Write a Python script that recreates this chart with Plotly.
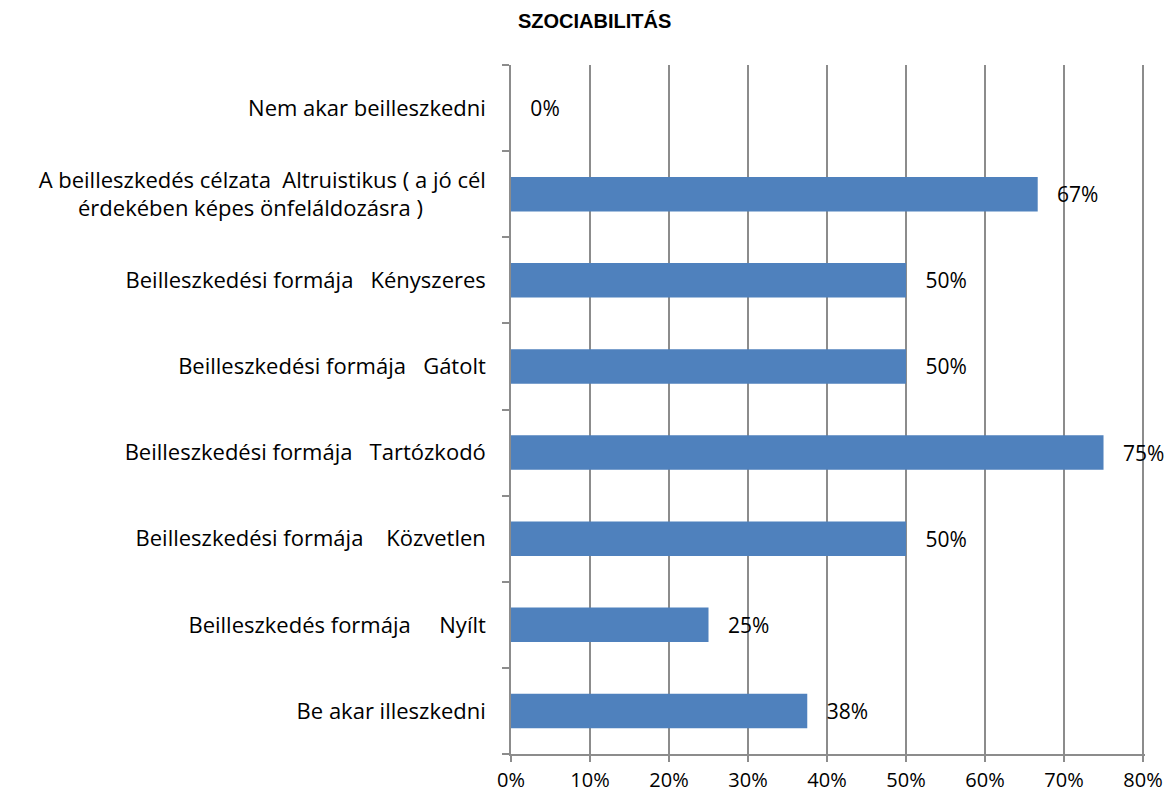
import plotly.graph_objects as go

NB = "\u00a0"

# categories listed bottom to top (Plotly draws the first category at the bottom)
categories = [
    "Be akar illeszkedni",
    "Beilleszkedés formája" + NB * 5 + "Nyílt",
    "Beilleszkedési formája" + NB * 4 + "Közvetlen",
    "Beilleszkedési formája" + NB * 3 + "Tartózkodó",
    "Beilleszkedési formája" + NB * 3 + "Gátolt",
    "Beilleszkedési formája" + NB * 3 + "Kényszeres",
    "A beilleszkedés célzata" + NB * 2 + "Altruistikus ( a jó cél<br>érdekében képes önfeláldozásra )" + NB * 11,
    "Nem akar beilleszkedni",
]
values = [0.375, 0.25, 0.50, 0.75, 0.50, 0.50, 0.6667, 0.0]
labels = [f"{v * 100:.0f}%" for v in values]

x_ticks = [i / 10 for i in range(9)]
x_tick_labels = [f"{i * 10}%" for i in range(9)]

FONT = "Open Sans, Lato, sans-serif"
GRID = "#8C8C8C"

fig = go.Figure()
fig.add_trace(go.Bar(
    y=categories,
    x=values,
    orientation="h",
    marker=dict(color="#4F81BD", line=dict(width=0)),
    text=[NB * 3 + t for t in labels],
    textposition="outside",
    textfont=dict(family=FONT, size=21, color="#000000"),
    cliponaxis=False,
))

# page body has an 8px margin, so the figure is sized to fit inside the window
fig.update_layout(
    width=1157,
    height=785,
    margin=dict(l=503, r=20, t=57, b=39, autoexpand=False),
    paper_bgcolor="white",
    plot_bgcolor="white",
    bargap=0.6,
    showlegend=False,
    font=dict(family=FONT, size=22, color="#000000"),
    title=dict(
        text="<b>SZOCIABILITÁS</b>",
        x=0.507,
        xref="container",
        xanchor="center",
        y=0.984,
        yref="container",
        yanchor="middle",
        font=dict(family="Liberation Sans, Arial, sans-serif", size=20, color="#000000"),
    ),
    xaxis=dict(
        range=[0, 0.8025],
        tickvals=x_ticks,
        ticktext=x_tick_labels,
        showgrid=True,
        gridcolor=GRID,
        gridwidth=1.5,
        zeroline=False,
        showline=True,
        linecolor=GRID,
        linewidth=1.5,
        ticks="outside",
        ticklen=6,
        tickcolor=GRID,
        tickwidth=1.5,
        tickfont=dict(size=20),
        ticklabelstandoff=1,
        automargin=False,
        fixedrange=True,
    ),
    yaxis=dict(
        showgrid=False,
        showline=True,
        linecolor=GRID,
        linewidth=1.5,
        ticks="outside",
        tickson="boundaries",
        ticklen=7,
        tickcolor=GRID,
        tickwidth=1.5,
        tickfont=dict(size=22),
        ticklabelstandoff=19,
        automargin=False,
        fixedrange=True,
    ),
)

fig.write_html("out.html")
